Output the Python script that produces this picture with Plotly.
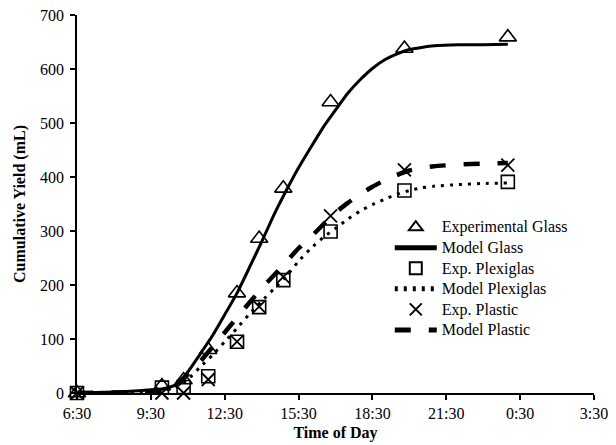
import plotly.graph_objects as go

# Experimental data (time of day in decimal hours; 24 = midnight)
exp_time = [6.5, 9.95, 10.83, 11.83, 13.0, 13.9, 14.88, 16.8, 19.8, 24.0]
exp_glass = [0, 13, 24, 80, 185, 286, 379, 539, 638, 659]
exp_plexiglas = [0, 10, 11, 31, 95, 159, 209, 299, 375, 391]
exp_plastic = [0, 0, 0, 25, 95, 160, 215, 328, 413, 422]

# Model curves
model_time = [6.5, 8, 9, 9.5, 10, 10.5, 11, 11.5, 12, 12.5, 13, 13.5, 14, 14.5, 15,
              15.5, 16, 16.5, 17, 17.5, 18, 18.5, 19, 19.5, 20, 20.5, 21, 22, 23, 24]
model_glass = [0, 2, 4, 6, 8, 15, 39, 72, 106, 145, 185, 232, 280, 330, 375,
               417, 455, 492, 524, 555, 580, 601, 617, 628, 636, 640, 643, 645, 645, 646]
model_plexiglas = [0, 1, 2, 3, 5, 10, 25, 48, 70, 95, 120, 146, 170, 193, 216,
                   244, 268, 288, 305, 322, 337, 349, 359, 368, 375, 380, 383, 386, 388, 389]
model_plastic = [0, 1, 2, 3, 5, 12, 35, 58, 85, 112, 140, 167, 194, 218, 243,
                 268, 289, 312, 334, 352, 368, 382, 394, 404, 412, 417, 420, 423, 425, 426]

tick_vals = [6.5, 9.5, 12.5, 15.5, 18.5, 21.5, 24.5, 27.5]
tick_text = ["6:30", "9:30", "12:30", "15:30", "18:30", "21:30", "0:30", "3:30"]
y_ticks = [0, 100, 200, 300, 400, 500, 600, 700]

FONT = "Liberation Serif"


def leg(name):
    return '<span style="font-size:16px">' + name + '</span>'


fig = go.Figure()

fig.add_trace(go.Scatter(x=exp_time, y=exp_glass, mode="markers", name=leg("Experimental Glass"),
                         marker=dict(symbol="triangle-up-open", size=15, color="black",
                                     line=dict(width=1.6, color="black")), cliponaxis=False))
fig.add_trace(go.Scatter(x=model_time, y=model_glass, mode="lines", name=leg("Model Glass"),
                         line=dict(color="black", width=3, shape="spline", smoothing=0.5)))
fig.add_trace(go.Scatter(x=exp_time, y=exp_plexiglas, mode="markers", name=leg("Exp. Plexiglas"),
                         marker=dict(symbol="square-open", size=13, color="black",
                                     line=dict(width=1.6, color="black")), cliponaxis=False))
fig.add_trace(go.Scatter(x=model_time, y=model_plexiglas, mode="lines", name=leg("Model Plexiglas"),
                         line=dict(color="black", width=3, dash="3px,6px", shape="spline", smoothing=0.5)))
fig.add_trace(go.Scatter(x=exp_time, y=exp_plastic, mode="markers", name=leg("Exp. Plastic"),
                         marker=dict(symbol="x-thin-open", size=13, color="black",
                                     line=dict(width=1.8, color="black")), cliponaxis=False))
fig.add_trace(go.Scatter(x=model_time, y=model_plastic, mode="lines", name=leg("Model Plastic"),
                         line=dict(color="black", width=4.5, dash="16px,18px", shape="spline", smoothing=0.5)))

fig.update_layout(
    width=608, height=437,
    margin=dict(l=69, r=22, t=7, b=52, autoexpand=False),
    paper_bgcolor="white", plot_bgcolor="white",
    font=dict(family=FONT, size=16, color="black"),
    showlegend=True,
    legend=dict(x=0.605, y=0.479, xanchor="left", yanchor="top", bgcolor="rgba(0,0,0,0)",
                font=dict(family=FONT, size=13.5), tracegroupgap=0, itemwidth=42,
                itemsizing="constant"),
    xaxis=dict(range=[6.5, 27.5], tickvals=tick_vals, ticktext=tick_text, automargin=False,
               showgrid=False, zeroline=False, showline=True, linecolor="black", linewidth=1.5,
               ticks="outside", ticklen=5, tickcolor="black", tickwidth=1.5,
               tickfont=dict(family=FONT, size=16), ticklabeloverflow="allow",
               title=dict(text="<b>Time of Day</b>", font=dict(family=FONT, size=16), standoff=6)),
    yaxis=dict(range=[0, 700], tickvals=y_ticks, automargin=False,
               showgrid=False, zeroline=False, showline=True, linecolor="black", linewidth=1.5,
               ticks="outside", ticklen=5, tickcolor="black", tickwidth=1.5,
               tickfont=dict(family=FONT, size=16), ticklabelstandoff=3, ticklabeloverflow="allow",
               title=dict(text="<b>Cumulative Yield (mL)</b>", font=dict(family=FONT, size=16), standoff=10)),
)

fig.write_html("out.html")
